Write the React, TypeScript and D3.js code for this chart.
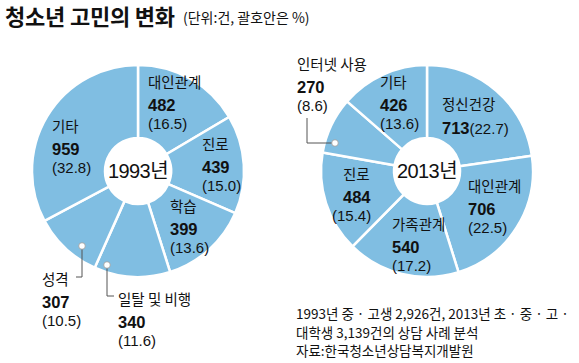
import React from "react";
import * as d3 from "d3";

const TITLE = "청소년 고민의 변화";
const SUBTITLE = "(단위:건, 괄호안은 %)";

const cats1993 = ["대인관계", "진로", "학습", "일탈 및 비행", "성격", "기타"];
const counts1993 = [482, 439, 399, 340, 307, 959];
const pcts1993 = [16.5, 15.0, 13.6, 11.6, 10.5, 32.8];

const cats2013 = ["정신건강", "대인관계", "가족관계", "진로", "인터넷 사용", "기타"];
const counts2013 = [713, 706, 540, 484, 270, 426];
const pcts2013 = [22.7, 22.5, 17.2, 15.4, 8.6, 13.6];

const notes = [
  "1993년 중 · 고생 2,926건, 2013년 초 · 중 · 고 ·",
  "대학생 3,139건의 상담 사례 분석",
  "자료:한국청소년상담복지개발원",
];

const FILL = "#80bee2";
const FONT = "'Noto Sans CJK KR', 'Noto Sans', sans-serif";
const NUMFONT = "'Liberation Sans', Arial, 'Noto Sans CJK KR', sans-serif";

type LP = { x: number; y: number; px?: number; inline?: boolean };
const lay1993: LP[] = [
  { x: 148, y: 88 },
  { x: 202, y: 150 },
  { x: 170, y: 212 },
  { x: 118, y: 305 },
  { x: 42, y: 285 },
  { x: 52, y: 132 },
];
const lay2013: LP[] = [
  { x: 442, y: 110, inline: true },
  { x: 468, y: 192 },
  { x: 392, y: 230 },
  { x: 343, y: 180, px: 332 },
  { x: 297, y: 70 },
  { x: 380, y: 88 },
];

function Donut({ cx, cy, values, cats, counts, pcts, lay, year, leaders }: any) {
  const pie = d3.pie<number>().sort(null).value((d) => d)(values);
  const arc = d3.arc<d3.PieArcDatum<number>>().innerRadius(33).outerRadius(106);
  return (
    <g>
      <g transform={`translate(${cx},${cy})`}>
        {pie.map((p, i) => (
          <path key={i} d={arc(p) || ""} fill={FILL} stroke="#fff" strokeWidth={2.5} />
        ))}
        <text x={0} y={7} textAnchor="middle" fontSize={20} fontFamily={NUMFONT} fontWeight={400} fill="#111" letterSpacing={-0.6}>
          {year}
        </text>
      </g>
      {leaders.map((l: any, i: number) => (
        <g key={i}>
          <polyline points={l.pts.map((p: number[]) => p.join(",")).join(" ")} fill="none" stroke="#555" strokeWidth={1} />
          <circle cx={l.pts[0][0]} cy={l.pts[0][1]} r={3.3} fill="#fff" stroke="#999" strokeWidth={0.8} />
        </g>
      ))}
      {cats.map((c: string, i: number) => {
        const L: LP = lay[i];
        if (L.inline) {
          return (
            <g key={i} fill="#111">
              <text x={L.x} y={L.y} fontSize={14.5}>{c}</text>
              <text x={L.x} y={L.y + 24} fontSize={15} fontFamily={NUMFONT}>
                <tspan fontWeight={700} fontSize={16.5}>{counts[i]}</tspan>
                <tspan>({pcts[i].toFixed(1)})</tspan>
              </text>
            </g>
          );
        }
        return (
          <g key={i} fill="#111">
            <text x={L.x} y={L.y} fontSize={14.5}>{c}</text>
            <text x={L.x} y={L.y + 23} fontSize={16.5} fontWeight={700} fontFamily={NUMFONT}>{counts[i]}</text>
            <text x={L.px ?? L.x} y={L.y + 41} fontSize={15} fontFamily={NUMFONT}>({pcts[i].toFixed(1)})</text>
          </g>
        );
      })}
    </g>
  );
}

export default function App() {
  return (
    <svg width={579} height={363} style={{ position: "absolute", left: 0, top: 0, background: "#fff" }} fontFamily={FONT}>
      <text x={5} y={25} fontSize={22} fontWeight={700} fill="#111" letterSpacing={-0.2}>{TITLE}</text>
      <text x={183} y={23} fontSize={14} fill="#111">{SUBTITLE}</text>
      <Donut
        cx={138}
        cy={171}
        values={pcts1993}
        cats={cats1993}
        counts={counts1993}
        pcts={pcts1993}
        lay={lay1993}
        year="1993년"
        leaders={[
          { pts: [[82, 246], [82, 277], [76, 277]] },
          { pts: [[107, 265], [107, 296], [114, 296]] },
        ]}
      />
      <Donut
        cx={427}
        cy={171}
        values={pcts2013}
        cats={cats2013}
        counts={counts2013}
        pcts={pcts2013}
        lay={lay2013}
        year="2013년"
        leaders={[{ pts: [[335, 143], [307, 143], [307, 118]] }]}
      />
      {notes.map((n, i) => (
        <text key={i} x={296} y={319 + i * 18.5} fontSize={13.5} fill="#111">{n}</text>
      ))}
    </svg>
  );
}
